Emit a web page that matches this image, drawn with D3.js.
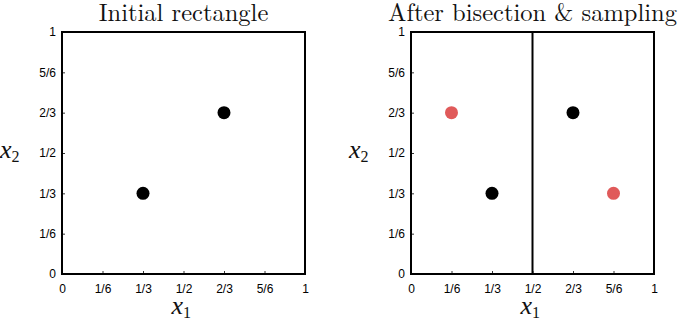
<!DOCTYPE html>
<meta charset="utf-8" />
<title>Bisection</title>
<style>
  body { margin: 0; background: #fff; }
  .tick text { font-family: "Liberation Sans", Arial, sans-serif; font-size: 12px; fill: #000; }
  .title { font-family: "Latin Modern Roman", "Liberation Serif", serif; font-size: 24.5px; fill: #111; }
  .axlab { font-family: "Liberation Serif", serif; font-style: italic; font-size: 26px; fill: #111; }
</style>
<body>
<svg width="685" height="322"></svg>
<script src="https://d3js.org/d3.v7.min.js"></script>
<script>
  const tickValues = [0, 1/6, 1/3, 1/2, 2/3, 5/6, 1];
  const tickLabels = ["0", "1/6", "1/3", "1/2", "2/3", "5/6", "1"];
  const titles = ["Initial rectangle", "After bisection & sampling"];

  // panel 1 points
  const initialPoints = [
    { x1: 1/3, x2: 1/3, color: "black" },
    { x1: 2/3, x2: 2/3, color: "black" }
  ];
  // panel 2 points (old + new samples)
  const sampledPoints = [
    { x1: 1/6, x2: 2/3, color: "red" },
    { x1: 1/3, x2: 1/3, color: "black" },
    { x1: 2/3, x2: 2/3, color: "black" },
    { x1: 5/6, x2: 1/3, color: "red" }
  ];
  const splits = [[], [1/2]];

  const colors = { black: "#000", red: "#e05a5a" };
  const panels = [
    { left: 62, points: initialPoints },
    { left: 411, points: sampledPoints }
  ];
  const frameTop = 32, size = 243;

  const svg = d3.select("svg");

  panels.forEach((p, i) => {
    const x = d3.scaleLinear().domain([0, 1]).range([p.left, p.left + size]);
    const y = d3.scaleLinear().domain([0, 1]).range([frameTop + size - 1, frameTop]);
    const g = svg.append("g");

    const fmt = d => tickLabels[tickValues.indexOf(d)];

    const xAxis = g.append("g")
      .attr("transform", `translate(0,${y(0)})`)
      .call(d3.axisBottom(x).tickValues(tickValues).tickFormat(fmt).tickSizeInner(-3).tickSizeOuter(0).tickPadding(10));
    xAxis.select(".domain").remove();
    xAxis.selectAll(".tick line").attr("stroke", "#333");

    const yAxis = g.append("g")
      .attr("transform", `translate(${x(0)},0)`)
      .call(d3.axisLeft(y).tickValues(tickValues).tickFormat(fmt).tickSizeInner(-3).tickSizeOuter(0).tickPadding(6));
    yAxis.select(".domain").remove();
    yAxis.selectAll(".tick line").attr("stroke", "#333");

    g.append("rect")
      .attr("x", x(0)).attr("y", y(1))
      .attr("width", x(1) - x(0)).attr("height", y(0) - y(1))
      .attr("fill", "none").attr("stroke", "#000").attr("stroke-width", 2);

    g.selectAll("line.split")
      .data(splits[i])
      .join("line")
      .attr("class", "split")
      .attr("x1", d => x(d)).attr("x2", d => x(d))
      .attr("y1", y(0)).attr("y2", y(1))
      .attr("stroke", "#000").attr("stroke-width", 2);

    g.selectAll("circle")
      .data(p.points)
      .join("circle")
      .attr("cx", d => x(d.x1))
      .attr("cy", d => y(d.x2))
      .attr("r", 6.5)
      .attr("fill", d => colors[d.color]);

    g.append("text")
      .attr("class", "title")
      .attr("x", x(0.5)).attr("y", 21)
      .attr("text-anchor", "middle")
      .text(titles[i]);

    const xl = g.append("text")
      .attr("class", "axlab")
      .attr("x", x(0.5) - 12).attr("y", 314);
    xl.append("tspan").text("x");
    xl.append("tspan").attr("dy", 4).style("font-style", "normal").style("font-size", "16px").text("1");

    const yl = g.append("text")
      .attr("class", "axlab")
      .attr("x", x(0) - 62).attr("y", 158);
    yl.append("tspan").text("x");
    yl.append("tspan").attr("dy", 4).style("font-style", "normal").style("font-size", "16px").text("2");
  });
</script>
</body>
